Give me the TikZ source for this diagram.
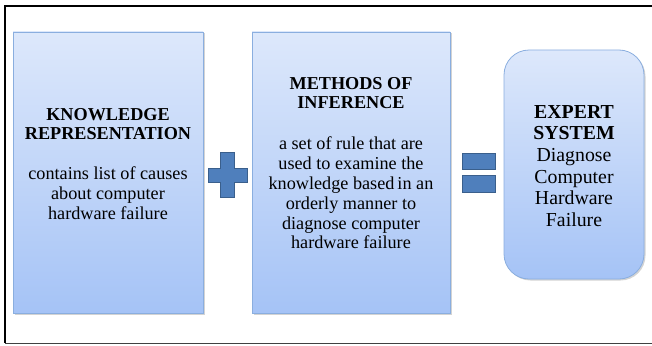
\documentclass[tikz,border=0pt]{standalone}
\usepackage{fontspec}
\setmainfont{Liberation Serif}
\usetikzlibrary{shadows}
\definecolor{boxtop}{HTML}{DDE8FB}
\definecolor{boxbot}{HTML}{A5C3F6}
\definecolor{boxline}{HTML}{8AAEDF}
\definecolor{symfill}{HTML}{4F7FBC}
\definecolor{symline}{HTML}{3A5F8C}
\begin{document}
\begin{tikzpicture}[x=1pt,y=-1pt,
  panel/.style={draw=boxline, line width=0.8pt, top color=boxtop, bottom color=boxbot,
    drop shadow={opacity=0.35, shadow xshift=1.5pt, shadow yshift=-1.5pt}},
  sym/.style={fill=symfill, draw=symline, line width=1pt},
  txt/.style={align=center, font=\fontsize{18.2}{19.8}\selectfont, text=black}]
\useasboundingbox (0,0) rectangle (652,345);
% frame
\draw[line width=2.2pt] (652,6) -- (5,6) -- (5,343);
\draw[line width=1pt, black!75] (5,343.5) -- (652,343.5);
% panels
\path[panel] (13,32) rectangle (203,313);
\path[panel] (252,32) rectangle (450,313);
\path[panel, rounded corners=25pt] (504,50) rectangle (644,279);
\node[txt] (kr) at (108,124) {\textbf{KNOWLEDGE}\\\textbf{REPRESENTATION}};
\node[txt] (krd) at (108,193) {contains list of causes\\about computer\\hardware failure};
\node[txt] (mi) at (351,93) {\textbf{METHODS OF}\\\textbf{INFERENCE}};
\node[txt] (mid) at (351,193) {a set of rule that are\\used to examine the\\knowledge based\,in an\\orderly manner to\\diagnose computer\\hardware failure};
\node[align=center, font=\fontsize{19.8}{21.6}\selectfont] (es) at (574,166)
  {\textbf{EXPERT}\\\textbf{SYSTEM}\\Diagnose\\Computer\\Hardware\\Failure};
% plus
\path[sym] (220.5,152) -- (234.5,152) -- (234.5,168) -- (247,168) -- (247,182) -- (234.5,182)
  -- (234.5,197) -- (220.5,197) -- (220.5,182) -- (208,182) -- (208,168) -- (220.5,168) -- cycle;
% equals
\path[sym] (462,153) rectangle (495,169);
\path[sym] (462,175.5) rectangle (495,192);
\end{tikzpicture}
\end{document}
